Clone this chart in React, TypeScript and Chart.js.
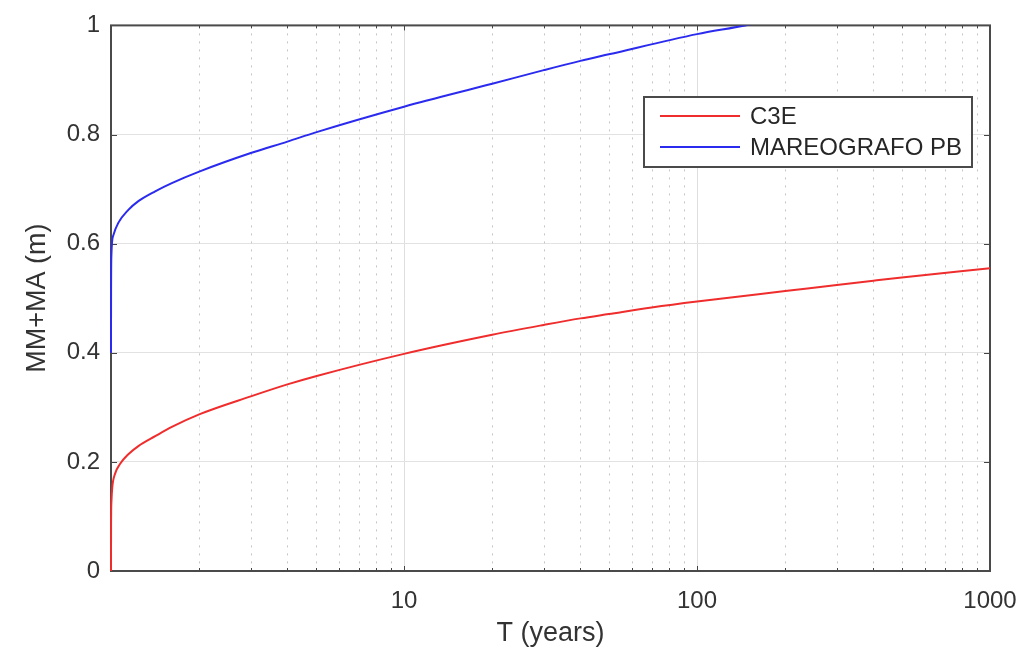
import React, { useEffect, useRef } from "react";
import { Chart, registerables } from "chart.js";

Chart.register(...registerables);

// ---- data ----
const seriesNames = ["C3E", "MAREOGRAFO PB"];

const c3eT = [1, 1.0005, 1.003, 1.01, 1.032, 1.073, 1.146, 1.24, 1.415, 1.613, 2, 3, 4, 5, 10, 20, 30, 40, 50, 70, 100, 200, 300, 400, 500, 1000];
const c3eV = [0, 0.08, 0.125, 0.153, 0.178, 0.196, 0.214, 0.229, 0.247, 0.264, 0.287, 0.32, 0.342, 0.357, 0.398, 0.433, 0.451, 0.463, 0.471, 0.483, 0.494, 0.513, 0.524, 0.532, 0.538, 0.555];

const pbT = [1, 1.0005, 1.003, 1.018, 1.059, 1.146, 1.24, 1.415, 1.613, 2, 3, 4, 5, 10, 20, 30, 40, 50, 100, 146, 200];
const pbV = [0.4, 0.5, 0.578, 0.615, 0.638, 0.662, 0.678, 0.696, 0.711, 0.732, 0.766, 0.787, 0.804, 0.851, 0.893, 0.918, 0.935, 0.947, 0.984, 1.0, 1.016];

const xLabelTicks = [10, 100, 1000];
const xMinorTicks = [2, 3, 4, 5, 6, 7, 8, 9, 20, 30, 40, 50, 60, 70, 80, 90, 200, 300, 400, 500, 600, 700, 800, 900];
const yTicks = [0, 0.2, 0.4, 0.6, 0.8, 1];
const xTitle = "T (years)";
const yTitle = "MM+MA (m)";

const FONT = '"Liberation Sans", Arial, Helvetica, sans-serif';
const RED = "#ef2d2d";
const BLUE = "#2b2bef";

export default function App() {
  const ref = useRef<HTMLCanvasElement>(null);

  useEffect(() => {
    const canvas = ref.current!;

    const decor = {
      id: "decor",
      beforeDatasetsDraw(chart: any) {
        const { ctx, chartArea: a, scales } = chart;
        const x = scales.x;
        const y = scales.y;
        ctx.save();
        // minor dotted grid
        ctx.strokeStyle = "#c6c6c6";
        ctx.lineWidth = 1;
        ctx.setLineDash([2, 6]);
        for (const t of xMinorTicks) {
          const px = Math.round(x.getPixelForValue(t)) + 0.5;
          ctx.beginPath();
          ctx.moveTo(px, a.top);
          ctx.lineTo(px, a.bottom);
          ctx.stroke();
        }
        ctx.setLineDash([]);
        // tick marks
        ctx.strokeStyle = "#444";
        ctx.lineWidth = 1;
        const allX = [...xMinorTicks.map((v) => [v, 3]), ...xLabelTicks.map((v) => [v, 5])];
        for (const [v, len] of allX) {
          const px = Math.round(x.getPixelForValue(v)) + 0.5;
          ctx.beginPath();
          ctx.moveTo(px, a.bottom);
          ctx.lineTo(px, a.bottom - len);
          ctx.moveTo(px, a.top);
          ctx.lineTo(px, a.top + len);
          ctx.stroke();
        }
        for (const v of yTicks) {
          const py = Math.round(y.getPixelForValue(v)) + 0.5;
          ctx.beginPath();
          ctx.moveTo(a.left, py);
          ctx.lineTo(a.left + 6, py);
          ctx.moveTo(a.right, py);
          ctx.lineTo(a.right - 6, py);
          ctx.stroke();
        }
        // box
        ctx.strokeStyle = "#4a4a4a";
        ctx.lineWidth = 2;
        ctx.strokeRect(a.left, a.top, a.right - a.left, a.bottom - a.top);
        // axis titles
        ctx.fillStyle = "#333";
        ctx.font = `27px ${FONT}`;
        ctx.textAlign = "center";
        ctx.textBaseline = "middle";
        ctx.fillText(xTitle, (a.left + a.right) / 2, 634);
        ctx.save();
        ctx.translate(38, (a.top + a.bottom) / 2);
        ctx.rotate(-Math.PI / 2);
        ctx.font = `27px ${FONT}`;
        ctx.fillText(yTitle, 0, 0);
        ctx.restore();
        ctx.restore();
      },
      afterDatasetsDraw(chart: any) {
        const { ctx } = chart;
        ctx.save();
        const bx = 644, by = 97, bw = 328, bh = 70;
        ctx.fillStyle = "#ffffff";
        ctx.fillRect(bx, by, bw, bh);
        ctx.strokeStyle = "#4a4a4a";
        ctx.lineWidth = 2;
        ctx.strokeRect(bx, by, bw, bh);
        const colors = [RED, BLUE];
        const rows = [116, 147];
        ctx.font = `24px ${FONT}`;
        ctx.textAlign = "left";
        ctx.textBaseline = "middle";
        seriesNames.forEach((name, i) => {
          ctx.strokeStyle = colors[i];
          ctx.lineWidth = 2;
          ctx.beginPath();
          ctx.moveTo(660, rows[i]);
          ctx.lineTo(740, rows[i]);
          ctx.stroke();
          ctx.fillStyle = "#262626";
          ctx.fillText(name, 750, rows[i] + 1);
        });
        ctx.restore();
      },
    };

    const chart = new Chart(canvas, {
      type: "line",
      data: {
        datasets: [
          {
            label: seriesNames[0],
            data: c3eT.map((t, i) => ({ x: t, y: c3eV[i] })),
            borderColor: RED,
            borderWidth: 2,
            pointRadius: 0,
            cubicInterpolationMode: "monotone",
            fill: false,
            clip: { left: 2, right: 2, top: 0, bottom: 2 },
          },
          {
            label: seriesNames[1],
            data: pbT.map((t, i) => ({ x: t, y: pbV[i] })),
            borderColor: BLUE,
            borderWidth: 2,
            pointRadius: 0,
            cubicInterpolationMode: "monotone",
            fill: false,
            clip: { left: 2, right: 2, top: 0, bottom: 2 },
          },
        ],
      },
      options: {
        animation: false,
        responsive: false,
        events: [],
        layout: { padding: { top: 21, right: 46, left: 0, bottom: 0 } },
        plugins: { legend: { display: false }, tooltip: { enabled: false } },
        scales: {
          x: {
            type: "logarithmic",
            min: 1,
            max: 1000,
            afterFit: (s: any) => {
              s.height = 81;
            },
            afterBuildTicks: (s: any) => {
              s.ticks = xLabelTicks.map((v) => ({ value: v }));
            },
            grid: {
              drawTicks: false,
              color: (c: any) => (c.tick && c.tick.value === 1000 ? "rgba(0,0,0,0)" : "#dedede"),
              lineWidth: 1,
            },
            border: { display: false },
            ticks: {
              padding: 16,
              maxRotation: 0,
              autoSkip: false,
              color: "#333",
              font: { family: FONT, size: 24 },
              callback: (v: any) => String(v),
            },
          },
          y: {
            type: "linear",
            min: 0,
            max: 1,
            afterFit: (s: any) => {
              s.width = 111;
            },
            afterBuildTicks: (s: any) => {
              s.ticks = yTicks.map((v) => ({ value: v }));
            },
            grid: {
              drawTicks: false,
              color: "#e2e2e2",
              lineWidth: 1,
            },
            border: { display: false },
            ticks: {
              padding: 11,
              color: "#333",
              font: { family: FONT, size: 24 },
              callback: (v: any) => String(Math.round(Number(v) * 10) / 10),
            },
          },
        },
      },
      plugins: [decor],
    } as any);

    return () => chart.destroy();
  }, []);

  return (
    <div style={{ position: "absolute", left: 0, top: 0, width: 1036, height: 652, background: "#fff" }}>
      <canvas ref={ref} width={1036} height={652} style={{ display: "block" }} />
    </div>
  );
}
